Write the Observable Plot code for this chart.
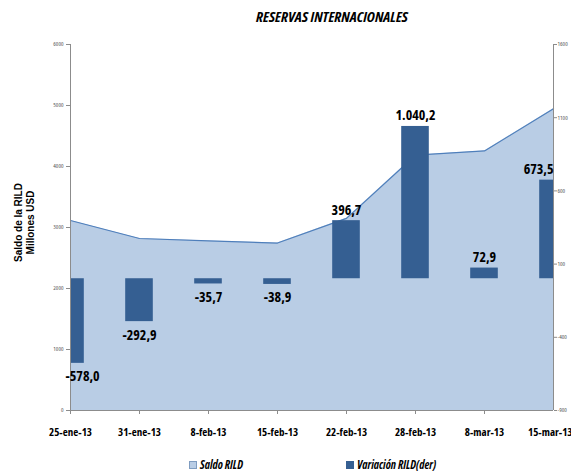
<!DOCTYPE html>
<html><head><meta charset="utf-8">
<script src="https://cdn.jsdelivr.net/npm/d3@7"></script>
<script src="https://cdn.jsdelivr.net/npm/@observablehq/plot@0.6"></script>
<style>
body{margin:0;background:#fff;width:571px;height:475px;overflow:hidden;position:relative;font-family:"Open Sans",sans-serif;font-stretch:condensed}
#title{position:absolute;left:332px;top:6px;transform:translateX(-50%);white-space:nowrap;font-weight:bold;font-style:italic;font-size:15px;color:#000}
#chart{position:absolute;left:0;top:30px}
#chart svg{font-stretch:condensed}
#chart svg .ytitle{font-stretch:normal}
.leg{position:absolute;top:457px;font-weight:bold;font-style:italic;font-size:11.5px;white-space:nowrap;display:flex;align-items:center}
.sw{display:inline-block;width:6px;height:6px;margin-right:3px}
</style></head><body>
<div id="title">RESERVAS INTERNACIONALES</div>
<div id="chart"></div>
<div class="leg" style="left:189px"><span class="sw" style="background:#b9cde5;border:1px solid #7f9cc0"></span>Saldo RILD</div>
<div class="leg" style="left:346px"><span class="sw" style="background:#355f92;border:1px solid #355f92"></span>Variación RILD(der)</div>
<script>
const fechas = ["25-ene-13","31-ene-13","8-feb-13","15-feb-13","22-feb-13","28-feb-13","8-mar-13","15-mar-13"];
const saldo = [3115, 2820, 2780, 2745, 3150, 4185, 4255, 4945];
const variacion = [-578.0, -292.9, -35.7, -38.9, 396.7, 1040.2, 72.9, 673.5];
const leftTicks = [0, 1000, 2000, 3000, 4000, 5000, 6000];
const rightTicks = [-900, -400, 100, 600, 1100, 1600];
const yTitle = "Saldo de la RILD\nMillones USD";

const rMin = -900, rMax = 1600, lMax = 6000;
const toLeft = v => (v - rMin) * lMax / (rMax - rMin);
const fmt = d3.formatLocale({decimal: ",", thousands: ".", grouping: [3], currency: ["", ""], minus: "-"}).format(",.1f");
const rows = fechas.map((f, i) => ({i, fecha: f, saldo: saldo[i], variacion: variacion[i]}));
const last = rows.length - 1;
const neg = rows.filter(d => d.variacion < 0 && d.i !== 0);
const pos = rows.filter(d => d.variacion >= 0 && d.i !== last);
const lblFont = {fontSize: 14, fontWeight: "bold", fill: "#000"};
const xAxisOpts = {label: null, tickFormat: i => fechas[i], fontSize: 11, fontWeight: "bold", fill: "#000", stroke: "#8c8c8c"};

const chart = Plot.plot({
  width: 571, height: 415,
  marginLeft: 70, marginRight: 18, marginTop: 14, marginBottom: 35,
  style: {fontFamily: '"Open Sans",sans-serif', background: "transparent", overflow: "visible"},
  x: {type: "linear", domain: [0, last], axis: null},
  y: {domain: [0, lMax], axis: null},
  marks: [
    Plot.areaY(rows, {x: "i", y: "saldo", fill: "#b9cde5"}),
    Plot.lineY(rows, {x: "i", y: "saldo", stroke: "#4f7fbb", strokeWidth: 1.2}),
    Plot.rectY(rows, {x1: d => d.i - 0.2, x2: d => d.i + 0.2, y1: () => toLeft(0), y2: d => toLeft(d.variacion), fill: "#355f92", clip: true}),
    Plot.ruleX([0, last], {stroke: "#8c8c8c", strokeWidth: 1}),
    Plot.ruleY([0], {stroke: "#8c8c8c", strokeWidth: 1}),
    Plot.axisY({anchor: "left", label: null, ticks: leftTicks, tickSize: 4, tickPadding: 3, fontSize: 6, fill: "#555", stroke: "#8c8c8c", tickFormat: d => String(d)}),
    Plot.axisY({anchor: "right", label: null, ticks: rightTicks.map(toLeft), tickSize: 3, tickPadding: 1, fontSize: 6, fill: "#555", stroke: "#8c8c8c", tickFormat: (d, i) => String(rightTicks[i])}),
    Plot.axisX({...xAxisOpts, ticks: d3.range(last), tickSize: 4, tickPadding: 14}),
    Plot.axisX({...xAxisOpts, ticks: [last], tickSize: 0, tickPadding: 18, textAnchor: "end", dx: 19}),
    Plot.text([yTitle], {frameAnchor: "left", textAnchor: "middle", rotate: -90, dx: -46, dy: -5, lineAnchor: "middle", lineHeight: 1.15, fontSize: 10, fontWeight: "bold", fontFamily: '"Liberation Sans",sans-serif', fill: "#000", className: "ytitle"}),
    Plot.text(neg, {x: "i", y: d => toLeft(d.variacion), text: d => fmt(d.variacion), lineAnchor: "top", dy: 8, ...lblFont}),
    Plot.text(pos, {x: "i", y: d => toLeft(d.variacion), text: d => fmt(d.variacion), lineAnchor: "bottom", dy: -6, ...lblFont}),
    Plot.text([rows[0]], {x: "i", y: d => toLeft(d.variacion), text: d => fmt(d.variacion), lineAnchor: "top", dy: 8, textAnchor: "start", dx: -5, ...lblFont}),
    Plot.text([rows[last]], {x: "i", y: d => toLeft(d.variacion), text: d => fmt(d.variacion), lineAnchor: "bottom", dy: -6, textAnchor: "end", dx: 0, ...lblFont})
  ]
});
document.getElementById("chart").appendChild(chart);
</script>
</body></html>
